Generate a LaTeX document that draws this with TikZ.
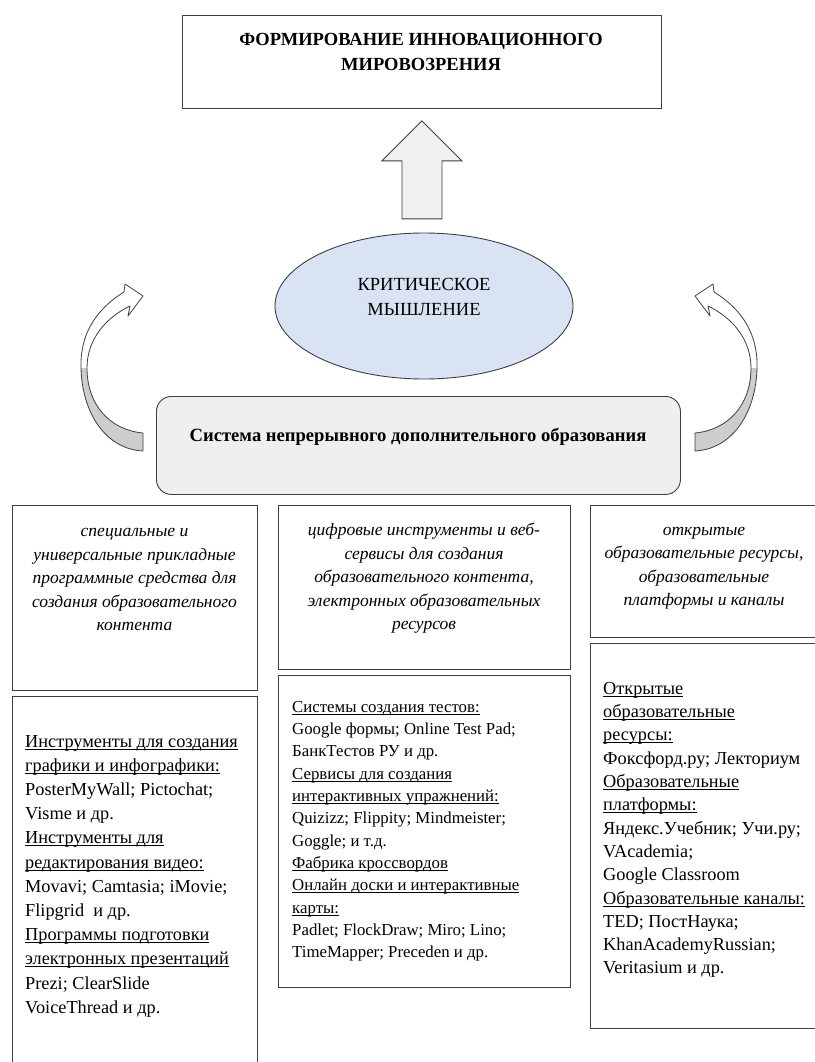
\documentclass[tikz,border=0pt]{standalone}
\usepackage{fontspec}
\setmainfont{Liberation Serif}
\usepackage{tikz}
\usetikzlibrary{shapes.geometric,calc}
\definecolor{lineC}{HTML}{3F3F3F}
\definecolor{ellC}{HTML}{DAE3F3}
\definecolor{sysC}{HTML}{EFEFEF}
\definecolor{arrowC}{HTML}{F0F0F0}
\definecolor{curlC}{HTML}{CDCDCD}
\newcommand\uln[1]{\setbox0\hbox{#1}\rlap{\rule[-2.2pt]{\wd0}{0.7pt}}\box0}
% curled block arrow (left one), in px
\newcommand\curlarrow{%
\fill[white] (143,433) .. controls (110,430) and (87,405) .. (87,368) .. controls (87,340) and (105,318) .. (130,306) -- (128,316) -- (143,296) -- (125,284) -- (124,292) .. controls (95,310) and (80,335) .. (81,368) .. controls (82,412) and (105,449) .. (143,451) -- cycle;
\fill[curlC] (143,433) .. controls (110,430) and (87,405) .. (87,368) -- (81,368) .. controls (82,412) and (105,449) .. (143,451) -- cycle;
\draw[lineC,line width=.8pt,line join=round] (143,433) .. controls (110,430) and (87,405) .. (87,368) .. controls (87,340) and (105,318) .. (130,306) -- (128,316) -- (143,296) -- (125,284) -- (124,292) .. controls (95,310) and (80,335) .. (81,368) .. controls (82,412) and (105,449) .. (143,451) -- cycle;}

\begin{document}
\begin{tikzpicture}[x=1pt,y=-1pt,
  frame/.style={draw=lineC,line width=.9pt},
  itxt/.style={font=\itshape\fontsize{17.5}{23.5}\selectfont,align=center,inner sep=0},
  ltxt/.style={align=left,inner sep=0,anchor=north west}]
\useasboundingbox[fill=white] (0,0) rectangle (814,1062);

% top
\node[frame,anchor=north west,minimum width=479,minimum height=93] (goal) at (182,15) {};
\node[font=\bfseries\fontsize{18.5}{25}\selectfont,align=center] (goalTxt) at (421,52) {ФОРМИРОВАНИЕ ИННОВАЦИОННОГО\\МИРОВОЗРЕНИЯ};
\draw[frame,fill=arrowC] ($(goal.south)+(0,12)$) -- ++(40,40) -- ++(-20,0) -- ++(0,58) -- ++(-40,0) -- ++(0,-58) -- ++(-20,0) -- cycle;

\node[ellipse,frame,fill=ellC,minimum width=298,minimum height=146] (crit) at (424,306) {};
\node[font=\fontsize{18.5}{25}\selectfont,align=center] (critTxt) at (424,297) {КРИТИЧЕСКОЕ\\МЫШЛЕНИЕ};

\node[frame,rounded corners=15,fill=sysC,anchor=north west,minimum width=524,minimum height=98] (sys) at (156,396) {};
\node[font=\bfseries\fontsize{18.6}{22}\selectfont] (sysTxt) at (418,437) {Система непрерывного дополнительного образования};

\curlarrow
\begin{scope}[xshift=838pt,xscale=-1]
\curlarrow
\end{scope}

% columns
\draw[frame] (12,505) rectangle (257,690);
\draw[frame] (12,696) rectangle (257,1070);
\draw[frame] (278,505) rectangle (570,669);
\draw[frame] (278,675) rectangle (570,987);
\draw[frame] (590,505) rectangle (816,637);
\draw[frame] (590,643) rectangle (816,1028);

\node[itxt] (soft) at (134.5,579.5) {специальные и\\универсальные прикладные\\программные средства для\\создания образовательного\\контента};
\node[itxt] (web) at (424,578.5) {цифровые инструменты и веб-\\сервисы для создания\\образовательного контента,\\электронных образовательных\\ресурсов};
\node[itxt] (oer) at (704,568) {открытые\\образовательные ресурсы,\\образовательные\\платформы и каналы};

\node[ltxt,font=\fontsize{18.3}{24.2}\selectfont] (softList) at (25,735) {\uln{Инструменты для создания}\\
\uln{графики и инфографики:}\\
PosterMyWall; Pictochat;\\
Visme и др.\\
\uln{Инструменты для}\\
\uln{редактирования видео:}\\
Movavi; Camtasia; iMovie;\\
Flipgrid\ \ и др.\\
\uln{Программы подготовки}\\
\uln{электронных презентаций}\\
Prezi; ClearSlide\\
VoiceThread и др.};

\node[ltxt,font=\fontsize{16.8}{22.3}\selectfont] (webList) at (292,701) {\uln{Системы создания тестов:}\\
Google формы; Online Test Pad;\\
БанкТестов РУ и др.\\
\uln{Сервисы для создания}\\
\uln{интерактивных упражнений:}\\
Quizizz; Flippity; Mindmeister;\\
Goggle; и т.д.\\
\uln{Фабрика кроссвордов}\\
\uln{Онлайн доски и интерактивные}\\
\uln{карты:}\\
Padlet; FlockDraw; Miro; Lino;\\
TimeMapper; Preceden и др.};

\node[ltxt,font=\fontsize{18.3}{23.3}\selectfont] (oerList) at (603,682) {\uln{Открытые}\\
\uln{образовательные}\\
\uln{ресурсы:}\\
Фоксфорд.ру; Лекториум\\
\uln{Образовательные}\\
\uln{платформы:}\\
Яндекс.Учебник; Учи.ру;\\
VAcademia;\\
Google Classroom\\
\uln{Образовательные каналы:}\\
TED; ПостНаука;\\
KhanAcademyRussian;\\
Veritasium и др.};
\end{tikzpicture}
\end{document}
